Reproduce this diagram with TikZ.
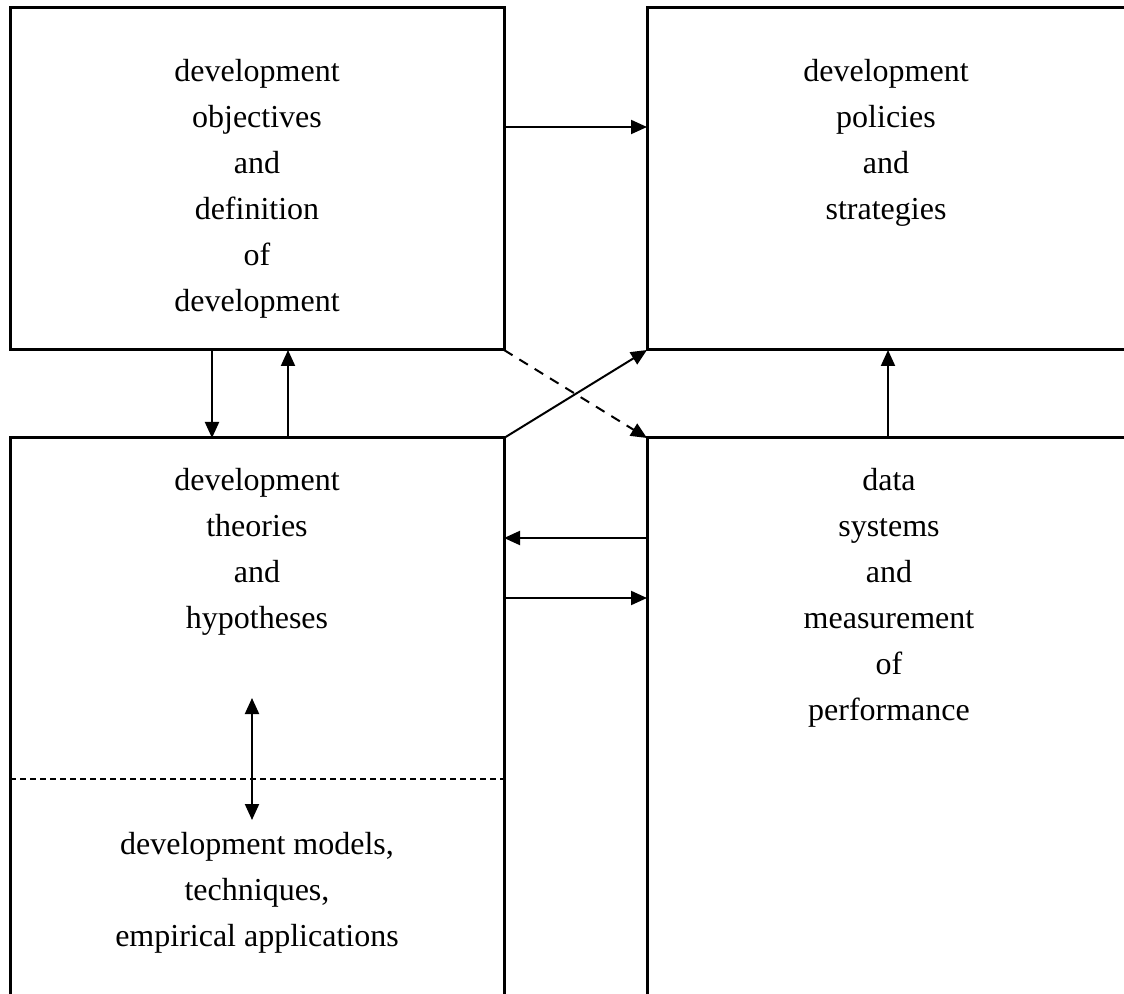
\documentclass[tikz,border=0pt]{standalone}
\usepackage{fontspec}
\setmainfont{Liberation Serif}
\usetikzlibrary{arrows.meta, calc}
\tikzstyle{box} = [rectangle, draw=black, line width=1.5pt, inner sep=0pt, outer sep=0pt]
\tikzstyle{label} = [align=center, font=\fontsize{16}{23}\selectfont]
\tikzstyle{arrow} = [line width=1pt,->,>={Triangle[length=8pt,width=7pt]}]

\begin{document}
\begin{tikzpicture}[x=0.5pt,y=-0.5pt]
\useasboundingbox (0,0) rectangle (1124,994);
\node (tl) [box, minimum width=247pt, minimum height=171pt] at (257,179) {};
\node (tr) [box, minimum width=245pt, minimum height=171pt] at (892,179) {};
\node (bl) [box, minimum width=247pt, minimum height=290pt] at (257,728) {};
\node (br) [box, minimum width=245pt, minimum height=290pt] at (892,728) {};
\node (objectives) [label] at (257,189) {development\\objectives\\and\\definition\\of\\development};
\node (policies) [label] at (886,143) {development\\policies\\and\\strategies};
\node (theories) [label] at (257,552) {development\\theories\\and\\hypotheses};
\node (models) [label] at (257,893) {development models,\\techniques,\\empirical applications};
\node (data) [label] at (889,598) {data\\systems\\and\\measurement\\of\\performance};
\draw [arrow] ($(tl.north east)+(0,119)$) -- ($(tr.north west)+(0,119)$);
\draw [arrow] ($(tl.south west)+(202,0)$) -- ($(bl.north west)+(202,0)$);
\draw [arrow] ($(bl.north west)+(278,0)$) -- ($(tl.south west)+(278,0)$);
\draw [arrow] (bl.north east) -- (tr.south west);
\draw [arrow, dash pattern=on 5pt off 4pt] (tl.south east) -- (br.north west);
\draw [arrow] ($(br.north west)+(241,0)$) -- ($(tr.south west)+(241,0)$);
\draw [arrow] ($(br.north west)+(0,100)$) -- ($(bl.north east)+(0,100)$);
\draw [arrow] ($(bl.north east)+(0,160)$) -- ($(br.north west)+(0,160)$);
\draw [line width=0.6pt, dash pattern=on 3pt off 2pt] ($(bl.north west)+(0,341)$) -- ($(bl.north east)+(0,341)$);
\draw [arrow, <->] ($(bl.north west)+(242,260)$) -- ($(bl.north west)+(242,382)$);
\end{tikzpicture}
\end{document}
